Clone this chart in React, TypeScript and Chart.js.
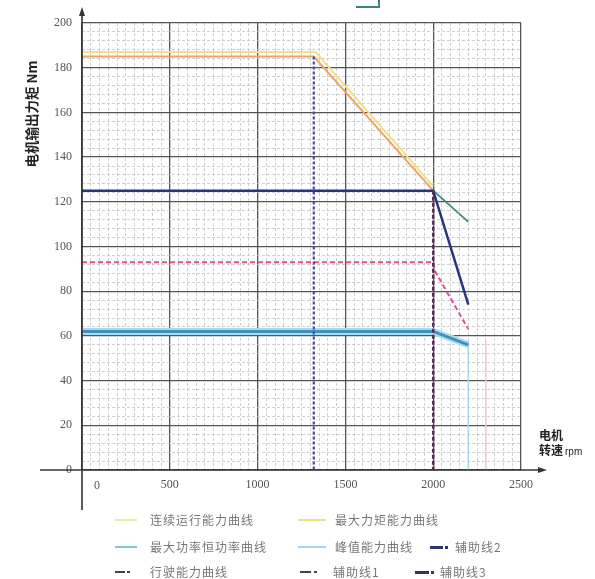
import React, { useEffect, useRef } from 'react';
import { Chart, registerables } from 'chart.js';
Chart.register(...registerables);

// ---- data (speed rpm, torque Nm) ----
const contSpeed = [0, 1330, 2000];
const contTorque = [187, 187, 127];
const maxTorqueSpeed = [0, 1320, 2000];
const maxTorqueVal = [185, 185, 125];
const maxPowerSpeed = [2000, 2200];
const maxPowerVal = [125, 111];
const navySpeed = [0, 2000, 2200];
const navyVal = [125, 125, 74];
const peakSpeed = [0, 2000, 2200];
const peakVal = [62, 62, 56];
const driveSpeed = [0, 2000, 2010, 2200];
const driveVal = [93, 93, 89, 63];
const aux1Speed = [1320, 1320];
const aux1Val = [185, 0];
const aux2Speed = [2000, 2000];
const aux2Val = [125, 0];
const aux3Speed = [2200, 2200];
const aux3Val = [56, 0];
const aux4Speed = [2300, 2300];
const aux4Val = [58, 0];

const xMajor = 500;
const yMajor = 20;

const toPts = (xs: number[], ys: number[]) => xs.map((x, i) => ({ x, y: ys[i] }));

const legendRows = [
  [
    { label: '连续运行能力曲线', color: '#eeeaa0', kind: 'solid', line: [115, 137], text: 150 },
    { label: '最大力矩能力曲线', color: '#f0df7a', kind: 'solid', line: [298, 326], text: 335 },
  ],
  [
    { label: '最大功率恒功率曲线', color: '#86c4cc', kind: 'solid', line: [115, 137], text: 150 },
    { label: '峰值能力曲线', color: '#a6d6ee', kind: 'solid', line: [298, 326], text: 335 },
    { label: '辅助线2', color: '#2f3468', kind: 'dashdot', line: [430, 447], text: 455 },
  ],
  [
    { label: '行驶能力曲线', color: '#444', kind: 'dash', line: [115, 130], text: 150 },
    { label: '辅助线1', color: '#444', kind: 'dash', line: [300, 317], text: 333 },
    { label: '辅助线3', color: '#2f3468', kind: 'dashdot', line: [415, 433], text: 440 },
  ],
];
const legendRowY = [520, 547, 572];

const decor = {
  id: 'decor',
  afterDatasetsDraw(chart: any) {
    const { ctx, chartArea, scales } = chart;
    const x0 = scales.x.getPixelForValue(0);
    const y0 = scales.y.getPixelForValue(0);
    ctx.save();
    ctx.strokeStyle = '#333';
    ctx.fillStyle = '#333';
    ctx.lineWidth = 1.6;
    ctx.beginPath();
    ctx.moveTo(x0, chartArea.top - 12);
    ctx.lineTo(x0, chartArea.bottom + 40);
    ctx.stroke();
    ctx.beginPath();
    ctx.moveTo(chartArea.left - 42, y0);
    ctx.lineTo(chartArea.right + 22, y0);
    ctx.stroke();
    // arrowheads
    ctx.beginPath();
    ctx.moveTo(x0, chartArea.top - 16);
    ctx.lineTo(x0 - 3, chartArea.top - 7);
    ctx.lineTo(x0 + 3, chartArea.top - 7);
    ctx.closePath();
    ctx.fill();
    ctx.beginPath();
    ctx.moveTo(chartArea.right + 26, y0);
    ctx.lineTo(chartArea.right + 17, y0 - 3);
    ctx.lineTo(chartArea.right + 17, y0 + 3);
    ctx.closePath();
    ctx.fill();

    // origin label, offset right of the y axis as in the original
    ctx.fillStyle = '#555';
    ctx.font = '12px "Liberation Serif"';
    ctx.textAlign = 'center';
    ctx.textBaseline = 'middle';
    ctx.fillText('0', x0 + 15, y0 + 16);

    // y title
    ctx.save();
    ctx.translate(32, 114);
    ctx.rotate(-Math.PI / 2);
    ctx.fillStyle = '#222';
    ctx.font = 'bold 13.5px "Noto Sans CJK SC"';
    ctx.textAlign = 'center';
    ctx.textBaseline = 'middle';
    ctx.fillText('电机输出力矩 Nm', 0, 0);
    ctx.restore();

    // x title
    ctx.fillStyle = '#222';
    ctx.font = 'bold 12px "Noto Sans CJK SC"';
    ctx.textAlign = 'left';
    ctx.textBaseline = 'middle';
    ctx.fillText('电机', chartArea.right + 18, y0 - 35);
    ctx.fillText('转速', chartArea.right + 18, y0 - 20);
    ctx.font = '10px "Liberation Sans"';
    ctx.fillText('rpm', chartArea.right + 44, y0 - 18);
    ctx.restore();
  },
};

export default function App() {
  const ref = useRef<HTMLCanvasElement>(null);
  useEffect(() => {
    if (!ref.current) return;
    // Chart.js paints the first dataset last (on top)
    const line = (label: string, xs: number[], ys: number[], color: string, width: number, dash: number[] = []) => ({
      label,
      data: toPts(xs, ys),
      borderColor: color,
      backgroundColor: color,
      borderWidth: width,
      borderDash: dash,
      showLine: true,
      pointRadius: 0,
      tension: 0,
    });
    const isMajor = (v: number, m: number) => Math.abs(v % m) < 1e-6;
    const chart = new Chart(ref.current, {
      type: 'scatter',
      data: {
        datasets: [
          line('辅助线2', aux2Speed, aux2Val, '#5a2c52', 2.5, [4, 2]),
          line('辅助线1', aux1Speed, aux1Val, '#4a4a9e', 2.2, [3, 2]),
          line('额定', navySpeed, navyVal, '#2a3380', 2.5),
          line('行驶能力曲线', driveSpeed, driveVal, '#e0508a', 2, [5, 3]),
          line('峰值能力曲线2', peakSpeed, peakVal, '#3f8fbf', 3),
          line('峰值能力曲线', peakSpeed, peakVal, '#a8dcf0', 7),
          line('最大功率恒功率曲线', maxPowerSpeed, maxPowerVal, '#3f8a80', 1.8),
          line('最大力矩能力曲线', maxTorqueSpeed, maxTorqueVal, '#eda468', 2),
          line('连续运行能力曲线', contSpeed, contTorque, '#f2df88', 2),
          line('辅助线3', aux3Speed, aux3Val, '#a4dbe6', 1.5),
          line('辅助线4', aux4Speed, aux4Val, '#f2c6d6', 1.5),
        ],
      },
      options: {
        animation: false,
        responsive: false,
        maintainAspectRatio: false,
        layout: { padding: { left: 0, right: 74, top: 23, bottom: 69 } },
        plugins: { legend: { display: false }, tooltip: { enabled: false }, title: { display: false } },
        scales: {
          x: {
            type: 'linear',
            min: 0,
            max: 2500,
            afterFit: (s: any) => { s.height = 40; },
            ticks: {
              stepSize: 50,
              maxTicksLimit: 1000,
              autoSkip: false,
              maxRotation: 0,
              padding: 8,
              color: '#555',
              font: { family: 'Liberation Serif', size: 12 },
              callback: (v: any) => (Number(v) !== 0 && isMajor(Number(v), xMajor) ? String(v) : ''),
            },
            grid: {
              drawTicks: false,
              color: (c: any) => (c.tick && isMajor(c.tick.value, xMajor) ? '#555' : '#c4c4c4'),
              lineWidth: (c: any) => (c.tick && isMajor(c.tick.value, xMajor) ? 1.3 : 0.8),
            },
            border: {
              display: false,
              dash: (c: any) => (c.tick && isMajor(c.tick.value, xMajor) ? [] : [3, 2]),
            },
          },
          y: {
            type: 'linear',
            min: 0,
            max: 200,
            afterFit: (s: any) => { s.width = 82; },
            ticks: {
              stepSize: 4,
              maxTicksLimit: 1000,
              autoSkip: false,
              padding: 10,
              color: '#555',
              font: { family: 'Liberation Serif', size: 12 },
              callback: (v: any) => (isMajor(Number(v), yMajor) ? String(v) : ''),
            },
            grid: {
              drawTicks: false,
              color: (c: any) => (c.tick && isMajor(c.tick.value, yMajor) ? '#555' : '#c4c4c4'),
              lineWidth: (c: any) => (c.tick && isMajor(c.tick.value, yMajor) ? 1.3 : 0.8),
            },
            border: {
              display: false,
              dash: (c: any) => (c.tick && isMajor(c.tick.value, yMajor) ? [] : [3, 2]),
            },
          },
        },
      },
      plugins: [decor],
    });
    return () => chart.destroy();
  }, []);

  const sample = (kind: string, color: string, x1: number, x2: number, y: number) => {
    const w = x2 - x1;
    if (kind === 'solid') {
      return <div style={{ position: 'absolute', left: x1, top: y - 1, width: w, height: 2, background: color }} />;
    }
    if (kind === 'dash') {
      return (
        <>
          <div style={{ position: 'absolute', left: x1, top: y - 1, width: w * 0.65, height: 2, background: color }} />
          <div style={{ position: 'absolute', left: x1 + w * 0.8, top: y - 1, width: w * 0.2, height: 2, background: color }} />
        </>
      );
    }
    return (
      <>
        <div style={{ position: 'absolute', left: x1, top: y - 1.5, width: w * 0.75, height: 3, background: color }} />
        <div style={{ position: 'absolute', left: x1 + w * 0.88, top: y - 1.5, width: 3, height: 3, background: color }} />
      </>
    );
  };

  return (
    <div style={{ position: 'absolute', left: 0, top: 0, width: 595, height: 579, background: '#fff', overflow: 'hidden' }}>
      <canvas ref={ref} width={595} height={579} style={{ position: 'absolute', left: 0, top: 0 }} />
      <div style={{ position: 'absolute', left: 356, top: -4, width: 22, height: 10, borderRight: '2px solid #3a8a6a', borderBottom: '2px solid #3a8a6a' }} />
      {legendRows.map((row, ri) =>
        row.map((it, ii) => (
          <React.Fragment key={ri + '-' + ii}>
            {sample(it.kind, it.color, it.line[0], it.line[1], legendRowY[ri])}
            <div
              style={{
                position: 'absolute',
                left: it.text,
                top: legendRowY[ri] - 9,
                fontFamily: '"Noto Sans CJK SC"',
                fontSize: 12,
                letterSpacing: 1,
                lineHeight: '18px',
                color: '#777',
                whiteSpace: 'nowrap',
              }}
            >
              {it.label}
            </div>
          </React.Fragment>
        ))
      )}
    </div>
  );
}
